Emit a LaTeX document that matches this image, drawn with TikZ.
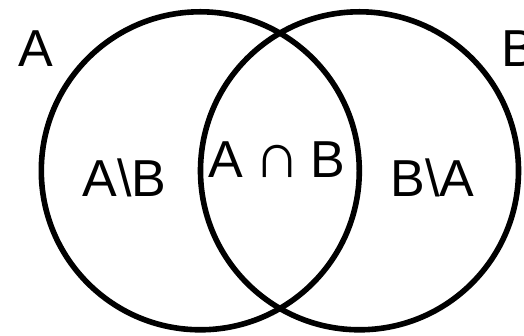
\documentclass[tikz,border=0pt]{standalone}
\usepackage{fontspec}
\setmainfont{Liberation Sans}
\begin{document}
\begin{tikzpicture}[x=1pt,y=1pt,
  setcircle/.style={draw=black, circle, line width=5.6pt, minimum size=318pt, inner sep=0pt},
  setlabel/.style={inner sep=0pt, anchor=base, font=\fontsize{52}{60}\selectfont}]
  \useasboundingbox (0,0) rectangle (524,336);
  % the two sets
  \node[setcircle] (setA) at (200.3,165.2) {};
  \node[setcircle] (setB) at (359.5,165.2) {};
  % set names
  \node[setlabel] (nameA) at (35.5,269) {A};
  \node[setlabel, anchor=base west] (nameB) at (501,269) {B};
  % regions
  \node[setlabel] (onlyA) at (124.5,139.5) {A\textbackslash B};
  \node[setlabel] (both) at (277,158) {A\hspace{0.2em}{\fontsize{64}{60}\selectfont ∩}\hspace{0.2em}B};
  \node[setlabel] (onlyB) at (432.5,139.5) {B\textbackslash A};
\end{tikzpicture}
\end{document}
